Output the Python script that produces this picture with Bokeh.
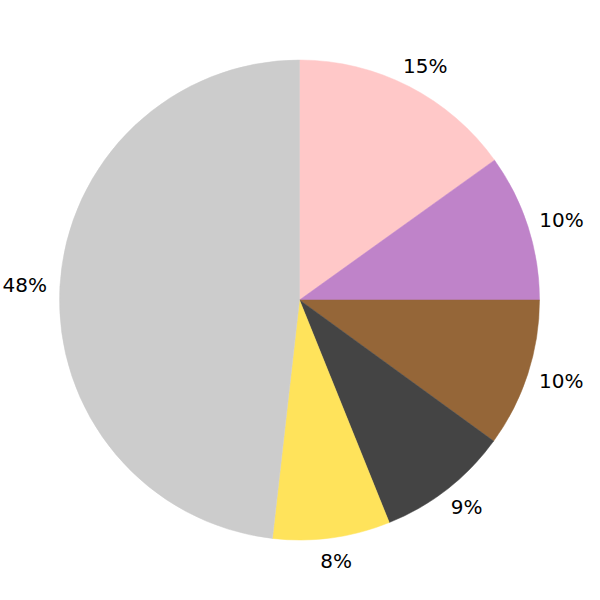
import numpy as np
from bokeh.plotting import figure
from bokeh.models import Range1d, ColumnDataSource
from bokeh.core.properties import value
from bokeh.embed import file_html
from bokeh.resources import INLINE

# Data (percent shares, clockwise from 12 o'clock)
categories = ["A", "B", "C", "D", "E", "F"]
shares = [15.1, 9.9, 10.0, 8.9, 7.9, 48.2]
colors = ["#FFC8C8", "#BF83C9", "#956638", "#444444", "#FFE35B", "#CCCCCC"]

R = 240.0
FONT_PX = 20
vals = np.array(shares, dtype=float)
frac = vals / vals.sum()
cum = np.cumsum(frac)
prev = np.concatenate([[0.0], cum[:-1]])
start_deg = 90.0 - prev * 360.0   # larger angle
end_deg = 90.0 - cum * 360.0      # smaller angle
mid = np.radians((start_deg + end_deg) / 2.0)
labels = [f"{round(v)}%" for v in vals]
# approximate half text width in px (DejaVu Sans: digit 0.636em, % 0.95em)
half_w = np.array([FONT_PX * (0.636 * (len(t) - 1) + 0.95) / 2.0 for t in labels])
LR = 263.0

src = ColumnDataSource(dict(
    cat=categories,
    a0=np.radians(end_deg),
    a1=np.radians(start_deg),
    color=colors,
    lx=LR * np.cos(mid),
    ly=LR * np.sin(mid),
    xo=0.55 * np.cos(mid) * half_w,
    label=labels,
))

p = figure(width=584, height=584, output_backend="svg", toolbar_location=None,
           x_range=Range1d(-299, 285), y_range=Range1d(-284.5, 299.5),
           min_border=0, min_border_left=0, min_border_right=0,
           min_border_top=0, min_border_bottom=0)
p.axis.visible = False
p.grid.visible = False
p.outline_line_color = None
p.background_fill_color = "white"
p.border_fill_color = "white"

p.wedge(x=0, y=0, radius=R, start_angle="a0", end_angle="a1",
        direction="anticlock", fill_color="color", line_color="color",
        line_width=0.5, source=src)
p.text(x="lx", y="ly", text="label", source=src, x_offset="xo",
       text_align="center", text_baseline="middle",
       text_font=value("DejaVu Sans"), text_font_size=f"{FONT_PX}px",
       text_color="black")

open("out.html", "w").write(file_html(p, INLINE))
